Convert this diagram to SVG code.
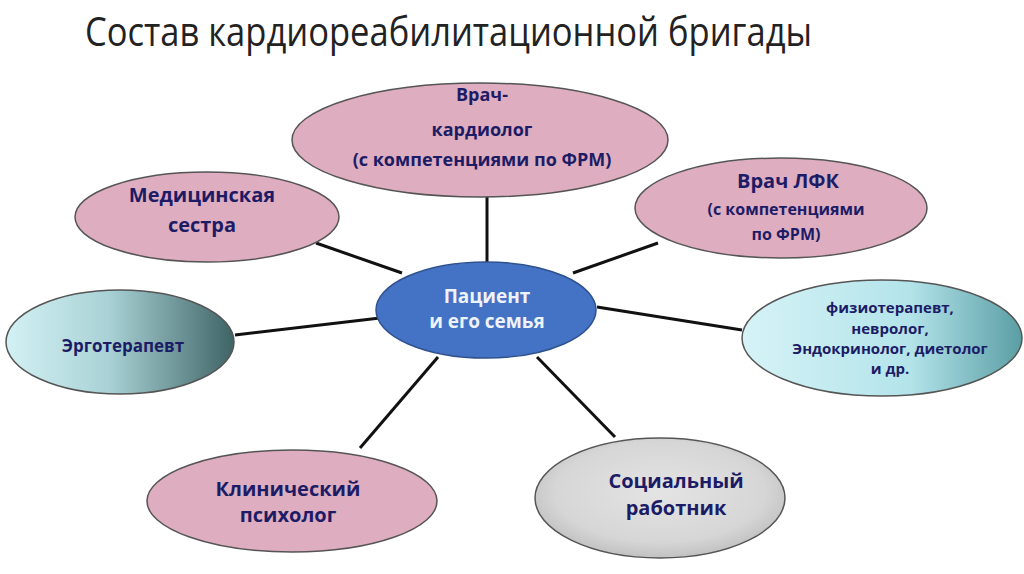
<svg xmlns="http://www.w3.org/2000/svg" width="1024" height="574" viewBox="0 0 1024 574">
<defs>
<linearGradient id="gErgo" x1="0" y1="0" x2="1" y2="0">
<stop offset="0" stop-color="#d3f1f4"/>
<stop offset="0.45" stop-color="#a9d2d6"/>
<stop offset="1" stop-color="#3f6466"/>
</linearGradient>
<linearGradient id="gSpec" x1="0" y1="0" x2="1" y2="0">
<stop offset="0" stop-color="#d6f3f7"/>
<stop offset="0.6" stop-color="#b3e4ea"/>
<stop offset="1" stop-color="#5a9ea4"/>
</linearGradient>
<radialGradient id="gSoc" cx="0.5" cy="0.45" r="0.6">
<stop offset="0" stop-color="#e4e4e4"/>
<stop offset="0.7" stop-color="#d6d6d6"/>
<stop offset="1" stop-color="#b9b9b9"/>
</radialGradient>
<style>
.pink{fill:#deadbf;stroke:#555;stroke-width:1.5}
.lbl{font-family:"Open Sans","Liberation Sans",sans-serif;font-weight:bold;fill:#1c1c66;text-anchor:middle}
.conn line{stroke:#111;stroke-width:3}
</style>
</defs>
<rect width="1024" height="574" fill="#fff"/>
<text x="85" y="46" font-family="'Open Sans','Liberation Sans',sans-serif" font-size="40" fill="#222" textLength="727" lengthAdjust="spacingAndGlyphs">Состав кардиореабилитационной бригады</text>
<g class="conn" id="connectors">
<line x1="487" y1="197" x2="487" y2="262"/>
<line x1="316" y1="243" x2="402" y2="273"/>
<line x1="658" y1="243" x2="573" y2="273"/>
<line x1="235" y1="335" x2="380" y2="318"/>
<line x1="597" y1="307" x2="742" y2="330"/>
<line x1="438" y1="357" x2="360" y2="448"/>
<line x1="537" y1="357" x2="615" y2="437"/>
</g>
<g id="n-cardio">
<ellipse class="pink" cx="480" cy="140" rx="188" ry="57"/>
<text class="lbl" font-size="18"><tspan x="482" y="101">Врач-</tspan><tspan x="482" y="136">кардиолог</tspan><tspan x="482" y="166">(с компетенциями по ФРМ)</tspan></text>
</g>
<g id="n-nurse">
<ellipse class="pink" cx="207" cy="217" rx="132" ry="45"/>
<text class="lbl" font-size="20"><tspan x="202" y="202">Медицинская</tspan><tspan x="202" y="232">сестра</tspan></text>
</g>
<g id="n-lfk">
<ellipse class="pink" cx="781" cy="208" rx="146" ry="50"/>
<text class="lbl"><tspan x="788" y="188" font-size="20">Врач ЛФК</tspan><tspan x="786" y="215" font-size="16">(с компетенциями</tspan><tspan x="786" y="240" font-size="16">по ФРМ)</tspan></text>
</g>
<g id="n-patient">
<ellipse cx="486" cy="310" rx="110" ry="48" fill="#4472c4" stroke="#2f528f" stroke-width="1.5"/>
<text class="lbl" font-size="19" style="fill:#eef3fb"><tspan x="487" y="303">Пациент</tspan><tspan x="487" y="328">и его семья</tspan></text>
</g>
<g id="n-ergo">
<ellipse cx="120" cy="342" rx="114" ry="52" fill="url(#gErgo)" stroke="#555" stroke-width="1.5"/>
<text class="lbl" font-size="17" x="123" y="352">Эрготерапевт</text>
</g>
<g id="n-spec">
<ellipse cx="882" cy="338" rx="140" ry="58" fill="url(#gSpec)" stroke="#555" stroke-width="1.5"/>
<text class="lbl" font-size="15"><tspan x="890" y="313">физиотерапевт,</tspan><tspan x="890" y="334">невролог,</tspan><tspan x="890" y="354">Эндокринолог, диетолог</tspan><tspan x="890" y="374">и др.</tspan></text>
</g>
<g id="n-psych">
<ellipse class="pink" cx="292" cy="501" rx="145" ry="51"/>
<text class="lbl" font-size="20"><tspan x="288" y="496">Клинический</tspan><tspan x="288" y="522">психолог</tspan></text>
</g>
<g id="n-social">
<ellipse cx="660" cy="498" rx="125" ry="60" fill="url(#gSoc)" stroke="#555" stroke-width="1.5"/>
<text class="lbl" font-size="20"><tspan x="676" y="488">Социальный</tspan><tspan x="676" y="515">работник</tspan></text>
</g>
</svg>
